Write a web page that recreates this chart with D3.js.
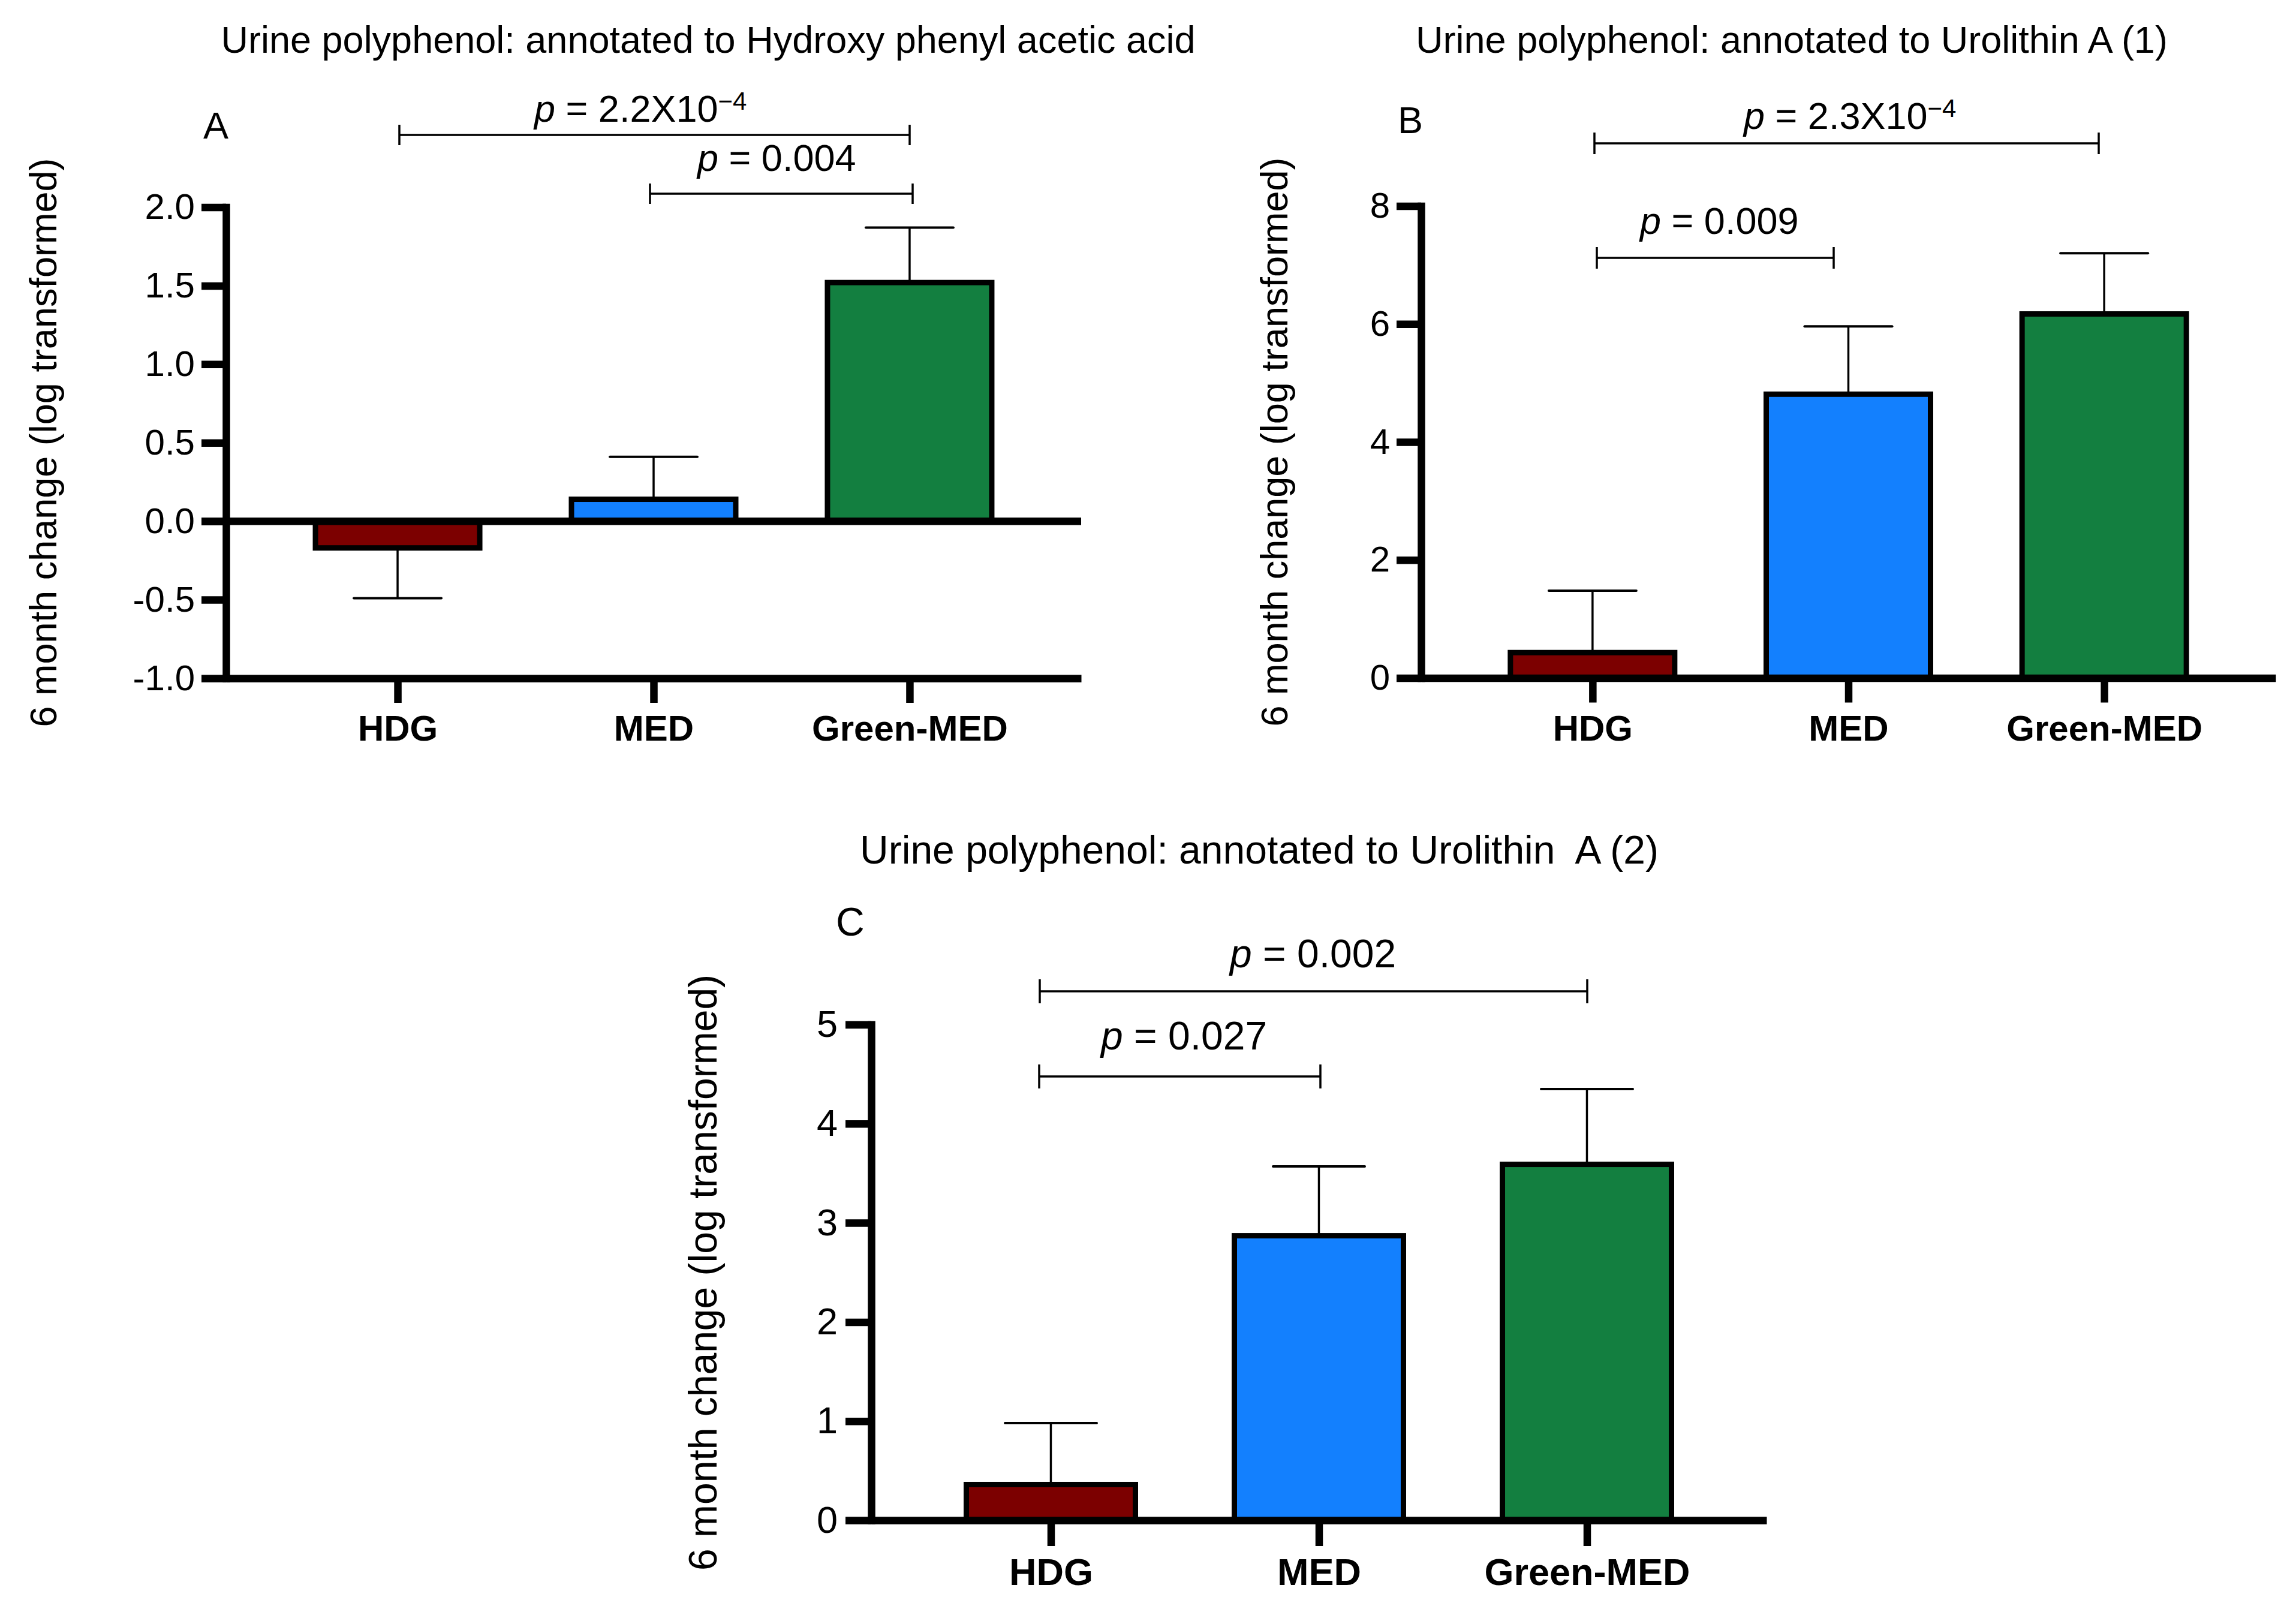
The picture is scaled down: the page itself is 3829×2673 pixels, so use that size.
<!DOCTYPE html>
<html>
<head>
<meta charset="utf-8">
<script src="https://cdn.jsdelivr.net/npm/d3@7"></script>
<style>
  html, body { margin: 0; padding: 0; background: #fff; }
  svg { display: block; }
  text { font-family: "Liberation Sans", Arial, sans-serif; fill: #000; white-space: pre; }
</style>
</head>
<body>
<svg id="chart" width="3829" height="2673" xmlns="http://www.w3.org/2000/svg"></svg>
<script>
// ---------------- DATA ----------------
const categories = ["HDG", "MED", "Green-MED"];
const barColors = ["#7C0000", "#1380FE", "#137F40"];

const meansA = [-0.17, 0.14, 1.52];
const semA   = [0.32, 0.27, 0.35];
const meansB = [0.43, 4.81, 6.17];
const semB   = [1.05, 1.15, 1.03];
const meansC = [0.36, 2.87, 3.59];
const semC   = [0.62, 0.70, 0.76];

const ticksA = [-1.0, -0.5, 0.0, 0.5, 1.0, 1.5, 2.0];
const ticksB = [0, 2, 4, 6, 8];
const ticksC = [0, 1, 2, 3, 4, 5];

const titleA = "Urine polyphenol: annotated to Hydroxy phenyl acetic acid";
const titleB = "Urine polyphenol: annotated to Urolithin A (1)";
const titleC = "Urine polyphenol: annotated to Urolithin  A (2)";
const yLabel = "6 month change (log transformed)";

// significance annotations: pairs of category indices and p text
const sigA = [{ from: 0, to: 2, p: "2.2X10", exp: "−4" }, { from: 1, to: 2, p: "0.004" }];
const sigB = [{ from: 0, to: 2, p: "2.3X10", exp: "−4" }, { from: 0, to: 1, p: "0.009" }];
const sigC = [{ from: 0, to: 2, p: "0.002" }, { from: 0, to: 1, p: "0.027" }];

// ---------------- LAYOUT ----------------
const panels = [
  { letter: "A", title: titleA, means: meansA, sem: semA, ticks: ticksA, dec: 1, sig: sigA,
    domain: [-1, 2], x0: 377, x1: 1803, yTop: 345.5, yBot: 1131, fs: 62, ax: 12.5, tick: 41,
    barW: 274, capW: 146, titleX: 1181, titleY: 88, letterX: 339, letterY: 231,
    ylabX: 94, ylabY: 738, catY: 1235, tickLabelRight: 325,
    br: [ { y: 225, x0: 666, x1: 1517, tx: 891, ty: 203 },
          { y: 323, x0: 1084, x1: 1522, tx: 1163, ty: 285 } ], brH: 17 },
  { letter: "B", title: titleB, means: meansB, sem: semB, ticks: ticksB, dec: 0, sig: sigB,
    domain: [0, 8], x0: 2370, x1: 3795, yTop: 343.5, yBot: 1130.5, fs: 62, ax: 12.5, tick: 41,
    barW: 274, capW: 146, titleX: 2988, titleY: 88, letterX: 2331, letterY: 222,
    ylabX: 2147, ylabY: 737, catY: 1235, tickLabelRight: 2318,
    br: [ { y: 239, x0: 2659, x1: 3500, tx: 2908, ty: 215 },
          { y: 430, x0: 2663, x1: 3058, tx: 2735, ty: 390 } ], brH: 18 },
  { letter: "C", title: titleC, means: meansC, sem: semC, ticks: ticksC, dec: 0, sig: sigC,
    domain: [0, 5], x0: 1453, x1: 2946, yTop: 1708.5, yBot: 2535, fs: 65, ax: 12.5, tick: 43,
    barW: 282, capW: 153, titleX: 2100, titleY: 1440, letterX: 1394, letterY: 1560,
    ylabX: 1195, ylabY: 2122, catY: 2643, tickLabelRight: 1397,
    br: [ { y: 1653, x0: 1734, x1: 2647, tx: 2051, ty: 1613 },
          { y: 1795, x0: 1733, x1: 2202, tx: 1836, ty: 1750 } ], brH: 20 }
];

const svg = d3.select("#chart");
svg.append("rect").attr("width", 3829).attr("height", 2673).attr("fill", "#fff");

panels.forEach(P => {
  const g = svg.append("g");
  const x = d3.scalePoint().domain(categories).range([P.x0, P.x1]).padding(0.67);
  const y = d3.scaleLinear().domain(P.domain).range([P.yBot, P.yTop]);
  const fsTick = P.fs - 2;

  // title
  g.append("text").attr("x", P.titleX).attr("y", P.titleY).attr("text-anchor", "middle")
    .attr("font-size", P.fs + 1).text(P.title);
  // panel letter
  g.append("text").attr("x", P.letterX).attr("y", P.letterY).attr("font-size", P.fs + 1).text(P.letter);
  // y label
  g.append("text").attr("transform", `translate(${P.ylabX},${P.ylabY}) rotate(-90)`)
    .attr("text-anchor", "middle").attr("font-size", P.fs + 1).text(yLabel);

  // error bars (behind bars)
  const data = categories.map((c, i) => ({ c, v: P.means[i], e: P.sem[i], col: barColors[i] }));
  data.forEach(d => {
    const end = d.v >= 0 ? d.v + d.e : d.v - d.e;
    g.append("line").attr("x1", x(d.c)).attr("x2", x(d.c)).attr("y1", y(d.v)).attr("y2", y(end))
      .attr("stroke", "#000").attr("stroke-width", 3.5);
    g.append("line").attr("x1", x(d.c) - P.capW / 2).attr("x2", x(d.c) + P.capW / 2)
      .attr("y1", y(end)).attr("y2", y(end))
      .attr("stroke", "#000").attr("stroke-width", 4).attr("stroke-linecap", "round");
  });

  // bars
  g.selectAll("rect.bar").data(data).enter().append("rect").attr("class", "bar")
    .attr("x", d => x(d.c) - P.barW / 2)
    .attr("width", P.barW)
    .attr("y", d => Math.min(y(d.v), y(0)))
    .attr("height", d => Math.abs(y(d.v) - y(0)))
    .attr("fill", d => d.col).attr("stroke", "#000").attr("stroke-width", 9)
    .attr("stroke-linejoin", "miter");

  // y axis
  const yAxis = d3.axisLeft(y).tickValues(P.ticks).tickSize(P.tick).tickSizeOuter(0)
    .tickPadding(P.x0 - P.tick - P.tickLabelRight)
    .tickFormat(v => v.toFixed(P.dec));
  const ya = g.append("g").attr("transform", `translate(${P.x0},0)`).call(yAxis);
  ya.select(".domain").attr("stroke-width", P.ax).attr("stroke-linecap", "square");
  ya.selectAll(".tick line").attr("stroke-width", P.ax);
  ya.selectAll(".tick text").attr("font-size", fsTick)
    .attr("font-family", "'Liberation Sans', Arial, sans-serif");

  // x axis at bottom of y range
  const xAxis = d3.axisBottom(x).tickSize(P.tick).tickSizeOuter(0).tickPadding(20);
  const xa = g.append("g").attr("transform", `translate(0,${P.yBot})`).call(xAxis);
  xa.select(".domain").attr("stroke-width", P.ax);
  xa.selectAll(".tick line").attr("stroke-width", P.ax);
  xa.selectAll(".tick text").attr("font-size", fsTick).attr("font-weight", "bold")
    .attr("font-family", "'Liberation Sans', Arial, sans-serif")
    .attr("dy", null).attr("y", P.catY - P.yBot);

  // zero line if domain includes negatives
  if (P.domain[0] < 0) {
    g.append("line").attr("x1", P.x0 - P.tick).attr("x2", P.x1).attr("y1", y(0)).attr("y2", y(0))
      .attr("stroke", "#000").attr("stroke-width", P.ax);
  }

  // significance brackets
  P.sig.forEach((s, i) => {
    const b = P.br[i];
    g.append("path")
      .attr("d", `M${b.x0},${b.y - P.brH}V${b.y + P.brH}M${b.x0},${b.y}H${b.x1}M${b.x1},${b.y - P.brH}V${b.y + P.brH}`)
      .attr("fill", "none").attr("stroke", "#000").attr("stroke-width", 3.5);
    const t = g.append("text").attr("x", b.tx).attr("y", b.ty).attr("font-size", P.fs + 1);
    t.append("tspan").attr("font-style", "italic").text("p");
    t.append("tspan").text(" = " + s.p);
    if (s.exp) {
      t.append("tspan").attr("dy", -20).attr("font-size", Math.round(P.fs * 0.68)).text(s.exp);
    }
  });
});
</script>
</body>
</html>
